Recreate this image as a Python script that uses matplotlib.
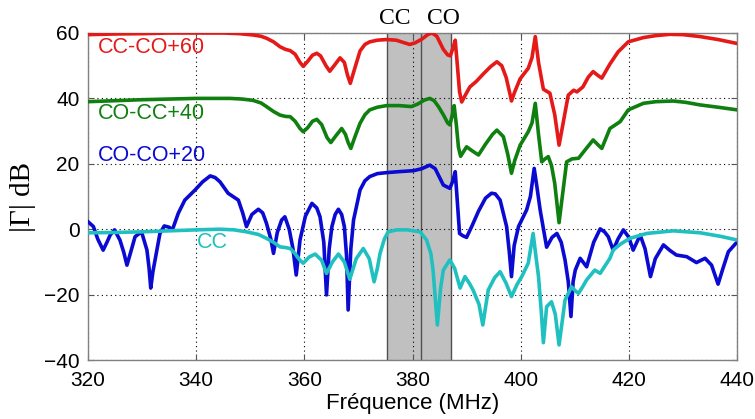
import matplotlib
matplotlib.use("Agg")
import matplotlib.pyplot as plt

# ---------------- data ----------------
red_f = [320, 325, 330, 335, 340, 345, 348, 350.5, 352, 353, 354.3, 355.5, 356.5, 357.4, 358.3,
         359.2, 359.8, 360.6, 361.5, 362.3, 363, 364, 364.7, 365.5, 366.6, 367.4, 368, 368.5,
         369.2, 370.3, 371.2, 372.1, 373.5, 375.2, 377, 378.5, 379.5, 380.5, 381.8, 382.8,
         383.6, 384.5, 385.7, 386.5, 387, 387.4, 387.9, 388.3, 388.7, 389.1, 389.7, 390.6,
         391.8, 393.1, 394.5, 395.6, 396.5, 397.3, 398, 398.3, 398.9, 399.9, 401.4, 402.1,
         402.7, 403.3, 404.2, 405.4, 406.3, 407.1, 407.8, 408.8, 409.8, 410.4, 411.5, 412.5,
         413.4, 414.3, 415, 416.5, 418, 419.9, 422.7, 425, 427.6, 430, 433.2, 436.5, 440]
red_db = [59.5, 59.7, 59.8, 60, 60, 60, 59.8, 59.4, 59, 58.4, 57.3, 55.8, 55, 54.6, 53.5,
          51, 49.8, 51.3, 53.2, 53.8, 53, 50, 48.3, 50, 52.4, 51, 47, 44.6,
          48.5, 54.5, 56.5, 57.3, 57.8, 58, 57.8, 57, 56.5, 57, 58.2, 59.5,
          60, 59, 55, 53.3, 53, 55, 57.8, 50, 42, 38.9, 40.8, 43.5,
          45.2, 47.5, 49.8, 51.2, 50, 46.5, 41.5, 39.2, 42, 46, 49.2, 52.5,
          58.9, 51, 42.8, 41.6, 35, 25.7, 32, 41, 42.5, 42, 43.5, 46.5,
          48.2, 47, 46.2, 50.5, 54.2, 57.3, 58.6, 59.2, 59.6, 59.5, 58.9, 58, 56.8]

green_f = [320, 325, 330, 335, 340, 346.3, 348.5, 350.5, 352, 353, 354.3, 355.5, 356.5, 357.4,
           358.3, 359.2, 359.8, 360.6, 361.5, 362.3, 363.2, 364.2, 364.9, 365.8, 366.9, 367.6,
           368.1, 368.6, 369.3, 370.3, 371.2, 372.1, 373.5, 375.2, 377.5, 379.8, 381, 382.2,
           383.2, 384, 384.8, 385.7, 386.5, 386.9, 387.3, 387.7, 388.1, 388.5, 388.9, 390,
           391, 392.2, 393.5, 394.8, 395.6, 396.8, 397.6, 398.3, 398.9, 399.9, 401.4, 402.1,
           402.7, 403.3, 403.9, 404.5, 405.1, 405.7, 406.3, 407.1, 407.7, 408.5, 409.5, 410.7,
           411.8, 413.4, 414.3, 415, 416.5, 418.4, 419.9, 422.7, 425, 428.2, 430.5, 433.2,
           436.5, 440]
green_db = [39, 39.3, 39.6, 39.8, 40, 40, 39.8, 39.4, 38.6, 37.5, 36, 34.9, 34.5, 34.4,
            33, 30.8, 29.8, 31, 33, 33.6, 32, 28, 26.5, 28.5, 30.8, 29,
            26.5, 24.7, 28, 32.4, 35, 36.5, 37.3, 37.8, 37.8, 37.5, 38.3, 39.5,
            40, 39.3, 37.5, 35, 32.5, 31.9, 34.5, 37.8, 32, 25, 22.3, 25.2,
            24, 22.7, 26, 29, 30.3, 28.3, 23, 17.1, 21, 25.7, 29.8, 32.5,
            38.5, 29, 20.6, 21.5, 22.2, 19.5, 14, 2, 10, 20.6, 21.5, 21.7,
            24, 27.3, 25.8, 24.7, 30.8, 32.9, 36.5, 38.5, 39, 39.2, 38.8, 38,
            37.3, 36.5]

blue_f = [320, 321, 321.8, 322.8, 323.5, 324.1, 324.9, 325.9, 326.6, 327.2, 327.9, 328.7,
          329.9, 330.9, 331.3, 331.6, 332, 332.4, 333.3, 334.1, 335, 335.6, 336.7, 337.9,
          339.8, 341.2, 342.6, 343.5, 344.4, 345.9, 347.8, 348.6, 349.3, 350.3, 351.5, 352.3,
          353, 353.8, 354.3, 355, 355.8, 356.4, 357.2, 357.9, 358.5, 359.2, 360.2, 361.4,
          362.3, 362.9, 363.6, 364.1, 364.6, 365.1, 365.7, 366.3, 366.9, 367.4, 367.8, 368.1,
          368.6, 369.1, 370.3, 371.2, 372.1, 373.5, 375.2, 377.5, 380.2, 381.7, 383.2, 384.2,
          385.7, 386.9, 387.4, 387.9, 388.3, 388.7, 389.3, 390, 391, 392.2, 393.5, 394.6,
          395.3, 396.2, 397.4, 397.9, 398.3, 398.8, 399.6, 401.1, 401.8, 402.5, 403, 403.6,
          404.8, 405.8, 406.7, 407.5, 408.2, 408.8, 409.3, 409.7, 410.1, 411, 412.2, 413.5,
          414.7, 415.5, 416.2, 417.1, 418, 419, 420, 420.8, 422.1, 423, 424, 424.9, 426.4,
          427.6, 428.8, 430.7, 432.5, 434.1, 435.3, 436.5, 437.4, 438.4, 439.8, 440]
blue_db = [2.3, 0.8, -3, -6.4, -4, -1.8, -0.2, -3.3, -7, -11, -7, -2.3,
           -0.8, -6.4, -12, -18, -13, -9.4, -1.3, 1, 0.6, -0.2, 4.9, 8.9,
           12, 14.5, 16.3, 15.8, 14.5, 11, 8.9, 5, 0.8, 4.5, 6.1, 5,
           1.8, -3, -7.4, -1, 2.8, 3.8, 0, -6, -14, -3.3, 4, 7.9,
           6.5, 3.8, -4, -20.1, -6, 0.8, 4.5, 6.1, 4.5, 0.8, -8, -24.7,
           -6, 2.8, 12, 14.8, 16.1, 17, 17.3, 17.6, 17.9, 18.5, 19.6, 18.5,
           13.5, 12.5, 14.5, 17.6, 8, -1.3, -2, -2.5, 1, 5.5, 9.5, 11,
           10.8, 8.9, 0.8, -7, -14.5, -5, 0.8, 5.9, 10, 18.6, 13, 5.9,
           -5.5, -2.5, -1.3, -4, -9.4, -16, -26.7, -16, -12.5, -8.9, -11.5, -4,
           0.1, -0.8, -2.3, -6.4, -3, -0.2, -2.5, -6.4, -1.8, -6, -14.5, -9, -4.8,
           -6.5, -7.9, -8.4, -10.2, -8.9, -11, -16.8, -12, -6.9, -4.3, -4.1]

cyan_f = [320, 325, 330, 335, 340, 344.4, 347, 349.3, 351.5, 353, 354.3, 355.5, 356.5, 357.4,
          358.3, 359.2, 359.8, 360.9, 362, 363.2, 364.1, 365.2, 366.3, 367.4, 368.4, 369.6,
          370.9, 372, 372.9, 373.5, 374, 374.8, 375.5, 377.1, 379, 381.4, 382.6, 383.4, 383.8,
          384.6, 385.2, 385.7, 386.9, 387.8, 388.8, 389.7, 390.5, 391.2, 392.3, 393, 394,
          395.2, 396.2, 397.3, 398.3, 399.3, 400.2, 401.4, 402.3, 402.8, 403.3, 403.8, 404.2,
          404.8, 405.7, 406.4, 407.1, 407.7, 408.2, 409.4, 410.2, 410.7, 411.5, 412.2, 413.7,
          414.7, 416.5, 417.1, 418.5, 420.2, 423.3, 428.2, 433.2, 437, 440]
cyan_db = [-1.1, -1, -0.8, -0.5, -0.2, 0, -0.2, -0.8, -1.6, -2.8, -4, -5.4, -5.6, -5.9,
           -7.5, -9.5, -10.4, -8.5, -7.6, -9.5, -13.5, -10, -7.6, -10, -15.3, -9,
           -5.9, -9, -16.1, -12, -7.4, -3, -0.8, -0.2, -0.2, -0.8, -3.3, -7.5, -12.5,
           -29.3, -18, -12.5, -9.4, -12, -18, -14.5, -16.5, -18.6, -23, -29.3, -18.6,
           -14.8, -13, -16.5, -20.6, -17, -14.5, -10.4, -1.3, -8, -14.5, -25, -34.7,
           -23.7, -22.2, -26, -35.4, -28, -21.7, -17.6, -19, -19.6, -17.5, -15.5, -12.5,
           -13.5, -8.9, -6.4, -4.5, -2.8, -1.3, -0.5, -1.1, -2.2, -3.3]

band_edges = [375.3, 381.6, 387.1]
band_labels = ["CC", "CO"]
xticks = [320, 340, 360, 380, 400, 420, 440]
yticks = [-40, -20, 0, 20, 40, 60]

# ---------------- figure ----------------
SANS = ["Liberation Sans", "DejaVu Sans"]
SERIF = ["Liberation Serif", "DejaVu Serif"]
plt.rcParams["font.family"] = SANS

fig = plt.figure(figsize=(7.55, 4.19), dpi=100)
ax = fig.add_axes([88 / 755, 1 - 360 / 419, (737 - 88) / 755, (360 - 33) / 419])

ax.axvspan(band_edges[0], band_edges[1], facecolor="#c0c0c0", edgecolor="none", zorder=0.2)
ax.axvspan(band_edges[1], band_edges[2], facecolor="#c0c0c0", edgecolor="none", zorder=0.2)
for e in band_edges:
    ax.axvline(e, color="#505050", lw=1.0, zorder=0.3)

lw = 2.6
ax.plot(red_f, red_db, color="#e61919", lw=lw, zorder=3)
ax.plot(green_f, green_db, color="#0f800f", lw=lw, zorder=3)
ax.plot(blue_f, blue_db, color="#0a0ad2", lw=lw, zorder=3)
ax.plot(cyan_f, cyan_db, color="#20c0c0", lw=lw, zorder=3)

ax.set_xlim(320, 440)
ax.set_ylim(-40, 60)
ax.set_xticks(xticks)
ax.set_yticks(yticks)
ax.tick_params(direction="in", length=4, width=0.8, color="#555555", labelsize=15,
               top=True, right=True)
ax.tick_params(axis="x", pad=8)
ax.tick_params(axis="y", pad=6)
ax.grid(True, linestyle=(0, (1, 3)), color="black", lw=0.8)
ax.set_axisbelow(True)
for s in ax.spines.values():
    s.set_color("#808080")
    s.set_linewidth(1.0)

ax.set_xlabel("Fréquence (MHz)", fontsize=16, labelpad=2)
ax.set_ylabel("|Γ| dB", fontsize=21, family=SERIF, labelpad=6)

# curve labels
ax.text(321.8, 55.7, "CC-CO+60", color="#e61919", fontsize=15.5, va="center", ha="left")
ax.text(321.8, 35.5, "CO-CC+40", color="#0f800f", fontsize=15.5, va="center", ha="left")
ax.text(321.8, 22.6, "CO-CO+20", color="#0a0ad2", fontsize=15.5, va="center", ha="left")
ax.text(340.2, -4.0, "CC", color="#20c0c0", fontsize=15.5, va="center", ha="left")

# band labels above the axes
ax.text(376.8, 64.5, band_labels[0], fontsize=17, family=SERIF, ha="center", va="center",
        clip_on=False)
ax.text(385.8, 64.5, band_labels[1], fontsize=17, family=SERIF, ha="center", va="center",
        clip_on=False)

fig.savefig("out.png", dpi=100)
